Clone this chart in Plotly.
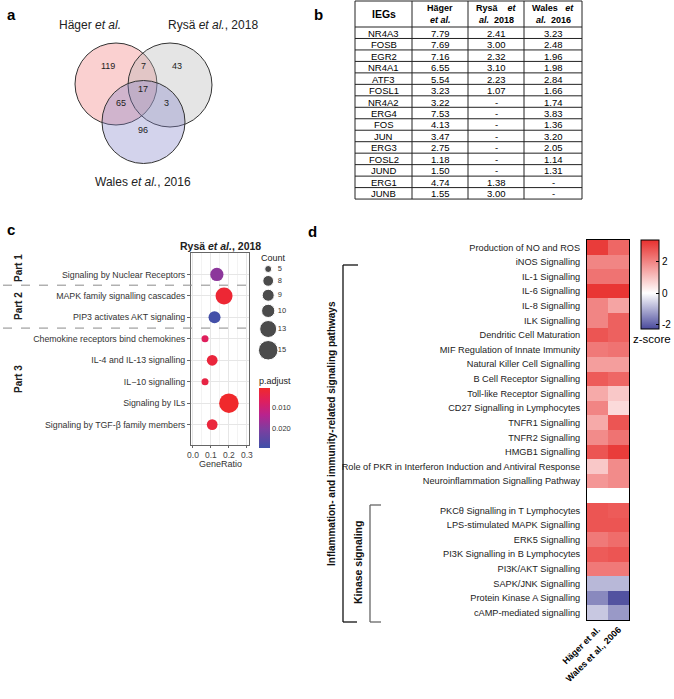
import plotly.graph_objects as go

W, H = 674, 699
FONT = "Liberation Sans, Arial, sans-serif"


def px(x):
    return x / W


def py(y):
    return 1 - y / H


# ---------------- Panel a: Venn data ----------------
venn_names = ["Häger <i>et al.</i>", "Rysä <i>et al.</i>, 2018", "Wales <i>et al.</i>, 2016"]
# region order: H only, H&R, R only, all three, H&W, R&W, W only
venn_counts = [119, 7, 43, 17, 65, 3, 96]

# ---------------- Panel b: table data ----------------
ieg_genes = ["NR4A3", "FOSB", "EGR2", "NR4A1", "ATF3", "FOSL1", "NR4A2", "ERG4",
             "FOS", "JUN", "ERG3", "FOSL2", "JUND", "ERG1", "JUNB"]
hager_fc = [7.79, 7.69, 7.16, 6.55, 5.54, 3.23, 3.22, 7.53, 4.13, 3.47, 2.75, 1.18, 1.50, 4.74, 1.55]
rysa_fc = [2.41, 3.00, 2.32, 3.10, 2.23, 1.07, None, None, None, None, None, None, None, 1.38, 3.00]
wales_fc = [3.23, 2.48, 1.96, 1.98, 2.84, 1.66, 1.74, 3.83, 1.36, 3.20, 2.05, 1.14, 1.31, None, None]
table_headers = [["<b>IEGs</b>"], ["<b>Häger</b>", "<b><i>et al.</i></b>"],
                 ["<b>Rysä\u00a0\u00a0\u00a0\u00a0<i>et</i></b>", "<b><i>al.</i>\u00a0\u00a02018</b>"],
                 ["<b>Wales\u00a0\u00a0\u00a0<i>et</i></b>", "<b><i>al.</i>\u00a0\u00a02016</b>"]]

# ---------------- Panel c: dot plot data ----------------
path_terms = ["Signaling by Nuclear Receptors", "MAPK family signalling cascades",
              "PIP3 activates AKT signaling", "Chemokine receptors bind chemokines",
              "IL-4 and IL-13 signalling", "IL\u221210 signalling", "Signaling by ILs",
              "Signaling by TGF-\u03b2 family members"]
gene_ratio = [0.133, 0.173, 0.120, 0.067, 0.107, 0.067, 0.200, 0.107]
gene_count = [10, 13, 9, 5, 8, 5, 15, 8]
p_adjust = [0.019, 0.002, 0.029, 0.007, 0.003, 0.004, 0.001, 0.003]
count_legend = [5, 8, 9, 10, 13, 15]

# ---------------- Panel d: heatmap data ----------------
heat_rows = ["Production of NO and ROS", "iNOS Signalling", "IL-1 Signalling", "IL-6 Signalling",
             "IL-8 Signalling", "ILK Signalling", "Dendritic Cell Maturation",
             "MIF Regulation of Innate Immunity", "Natural Killer Cell Signalling",
             "B Cell Receptor Signalling", "Toll-like Receptor Signalling",
             "CD27 Signalling in Lymphocytes", "TNFR1 Signalling", "TNFR2 Signalling",
             "HMGB1 Signalling", "Role of PKR in Interferon Induction and Antiviral Response",
             "Neuroinflammation Signalling Pathway", " ",
             "PKC\u03b8 Signalling in T Lymphocytes", "LPS-stimulated MAPK Signalling",
             "ERK5 Signalling", "PI3K Signalling in B Lymphocytes", "PI3K/AKT Signalling",
             "SAPK/JNK Signalling", "Protein Kinase A Signalling", "cAMP-mediated signalling"]
heat_cols = ["Häger et al.", "Wales et al., 2006"]
hager_z = [3.2, 2.0, 2.3, 3.3, 2.0, 2.0, 2.8, 2.2, 1.6, 2.7, 1.4, 2.0, 1.4, 1.9, 2.8, 0.9, 1.7, None,
           2.8, 2.8, 2.2, 2.7, 2.2, -0.9, -1.5, -0.7]
wales_z = [2.5, 2.0, 2.3, 3.3, 1.5, 2.6, 2.6, 2.3, 1.6, 2.5, 0.9, 0.6, 2.8, 2.3, 3.2, 1.9, 1.9, None,
           2.7, 2.8, 2.4, 2.8, 2.2, -0.9, -2.2, -1.3]

fig = go.Figure()
shapes = []
annotations = []


def ann(x, y, text, size=10, bold=False, angle=0, xanchor="center", color="black", yanchor="middle"):
    t = f"<b>{text}</b>" if bold else text
    annotations.append(dict(x=px(x), y=py(y), xref="paper", yref="paper", text=t, showarrow=False,
                            font=dict(family=FONT, size=size, color=color), textangle=angle,
                            xanchor=xanchor, yanchor=yanchor, borderpad=0))


def line(x0, y0, x1, y1, color, width=1.3, dash="solid"):
    shapes.append(dict(type="line", xref="paper", yref="paper", x0=px(x0), y0=py(y0),
                       x1=px(x1), y1=py(y1), line=dict(color=color, width=width, dash=dash)))


# ---------- Panel a: Venn ----------
venn_circles = [(116, 84, 41, "rgba(240,120,120,0.35)"),
                (170, 85, 42, "rgba(180,180,180,0.35)"),
                (143.5, 122, 41.5, "rgba(130,130,200,0.35)")]
for cx, cy, r, col in venn_circles:
    shapes.append(dict(type="circle", xref="paper", yref="paper",
                       x0=px(cx - r), x1=px(cx + r), y0=py(cy + r), y1=py(cy - r),
                       fillcolor=col, line=dict(color="#333", width=1), layer="above"))
venn_label_pos = [(90, 25), (213, 25), (143, 182)]
for (x, y), name in zip(venn_label_pos, venn_names):
    ann(x, y, name, size=12, color="#222")
venn_count_pos = [(108, 66), (143, 66), (177, 66), (143, 89), (121, 103), (166, 103), (143, 130)]
for (x, y), c in zip(venn_count_pos, venn_counts):
    ann(x, y, str(c), size=9, color="#222")

# ---------- Panel letters ----------
ann(11, 15, "a", size=15, bold=True)
ann(318, 14, "b", size=15, bold=True)
ann(11, 229, "c", size=15, bold=True)
ann(312, 231, "d", size=15, bold=True)

# ---------- Panel b: table (drawn as grid + text) ----------
def fmt(v):
    return "-" if v is None else f"{v:.2f}"

col_edges = [355, 412, 468, 524, 582]
tbl_top, hdr_h, row_h = 1, 26, 11.47
columns = [ieg_genes, [fmt(v) for v in hager_fc], [fmt(v) for v in rysa_fc], [fmt(v) for v in wales_fc]]
n_rows = len(ieg_genes)
tbl_bottom = tbl_top + hdr_h + n_rows * row_h
for xe in col_edges:
    line(xe, tbl_top, xe, tbl_bottom, "#222", width=1)
line(col_edges[0], tbl_top, col_edges[-1], tbl_top, "#222", width=1)
for i in range(n_rows + 1):
    yy = tbl_top + hdr_h + i * row_h
    line(col_edges[0], yy, col_edges[-1], yy, "#222", width=1)
for j, hdr in enumerate(table_headers):
    xc = (col_edges[j] + col_edges[j + 1]) / 2
    if len(hdr) == 1:
        ann(xc, tbl_top + hdr_h / 2, hdr[0], size=10.5)
    else:
        ann(xc, tbl_top + 7.5, hdr[0], size=9)
        ann(xc, tbl_top + 19.5, hdr[1], size=9)
for j, col in enumerate(columns):
    xc = (col_edges[j] + col_edges[j + 1]) / 2
    for i, v in enumerate(col):
        ann(xc, tbl_top + hdr_h + (i + 0.5) * row_h + 0.5, v, size=9.5)

# ---------- Panel c: dot plot ----------
def dot_size(c):
    return 7 + 1.25 * (c - 5)

neg_p = [-p for p in p_adjust]
fig.add_trace(go.Scatter(
    x=gene_ratio, y=path_terms, xaxis="x2", yaxis="y2", mode="markers",
    marker=dict(size=[dot_size(c) for c in gene_count], color=neg_p, cmin=-0.0295, cmax=-0.001,
                colorscale=[[0, "#3f50a8"], [0.3, "#7b3fa0"], [0.55, "#b8238e"],
                            [0.78, "#de1f5e"], [1, "#f0292c"]],
                line=dict(width=0), opacity=1,
                colorbar=dict(x=px(259), xanchor="left", y=py(418), yanchor="middle",
                              len=60, lenmode="pixels", thickness=11, thicknessmode="pixels",
                              xpad=0, ypad=0, outlinewidth=0, ticks="",
                              tickvals=[-0.01, -0.02], ticktext=["0.010", "0.020"],
                              tickfont=dict(family=FONT, size=7.5, color="#333"))),
    showlegend=False, hoverinfo="skip"))
ann(258, 381, "p.adjust", size=9, xanchor="left", color="#222")

# count legend (drawn on its own hidden axes, pixel units)
leg_sizes = [dot_size(c) for c in count_legend]
leg_y = [269.0]
for i in range(1, len(leg_sizes)):
    leg_y.append(leg_y[-1] + (leg_sizes[i - 1] + leg_sizes[i]) / 2 + 3)
fig.add_trace(go.Scatter(x=[0.3] * len(count_legend), y=leg_y, xaxis="x3", yaxis="y3",
                         mode="markers", marker=dict(size=leg_sizes, color="black"),
                         showlegend=False, hoverinfo="skip"))
fig.add_trace(go.Scatter(x=[0.58] * len(count_legend), y=leg_y, xaxis="x3", yaxis="y3",
                         mode="text", text=[str(c) for c in count_legend], textposition="middle right",
                         textfont=dict(family=FONT, size=7.5, color="#333"),
                         showlegend=False, hoverinfo="skip"))
ann(260, 258, "Count", size=9, xanchor="left", color="#222")
ann(220, 246, "Rysä <i>et al.</i>, 2018", size=10.5, bold=True, color="#222")
ann(220, 464, "GeneRatio", size=9, color="#333")
ann(18, 268, "Part 1", size=10, bold=True, angle=-90, color="#222")
ann(18, 306, "Part 2", size=10, bold=True, angle=-90, color="#222")
ann(18, 379, "Part 3", size=10, bold=True, angle=-90, color="#222")
for yv in [0.5, 2.5]:
    shapes.append(dict(type="line", xref="paper", yref="y2", x0=px(3), x1=px(249), y0=yv, y1=yv,
                       line=dict(color="#8a8a8a", width=1, dash="dash"), layer="above"))

# ---------- Panel d: heatmap ----------
z = [[h, w] for h, w in zip(hager_z, wales_z)]
zmin, zmax = -2.3, 3.4
wpos = -zmin / (zmax - zmin)
fig.add_trace(go.Heatmap(
    z=z, x=heat_cols, y=heat_rows, xaxis="x4", yaxis="y4", zmin=zmin, zmax=zmax,
    colorscale=[[0, "#4a4a9c"], [wpos, "#ffffff"], [1, "#e8302e"]],
    hoverongaps=False, xgap=0, ygap=0,
    colorbar=dict(x=px(641), xanchor="left", y=py(284.5), yanchor="middle",
                  len=89, lenmode="pixels", thickness=18, thicknessmode="pixels",
                  xpad=0, ypad=0, outlinewidth=1, outlinecolor="black",
                  tickvals=[-2, 0, 2], ticktext=["-2", "0", "2"], ticks="inside", ticklen=3,
                  tickcolor="black", tickfont=dict(family=FONT, size=10, color="black"))))
ann(652, 339, "z-score", size=11.5)

# brackets
line(343, 265, 358, 265, "#111")
line(343, 265, 343, 622, "#111")
line(343, 622, 357, 622, "#111")
line(370, 505, 381, 505, "#666")
line(370, 505, 370, 622, "#666")
line(370, 622, 381, 622, "#666")
ann(331, 434, "Inflammation- and immunity-related signaling pathways", size=10, bold=True,
    angle=-90, color="#111")
ann(358, 563, "Kinase signaling", size=10.5, bold=True, angle=-90, color="#111")

fig.update_layout(
    width=W, height=H, margin=dict(l=0, r=0, t=0, b=0, autoexpand=False),
    paper_bgcolor="white", plot_bgcolor="white", showlegend=False,
    shapes=shapes, annotations=annotations,
    font=dict(family=FONT),
    xaxis2=dict(domain=[px(191), px(249)], anchor="y2", range=[-0.011, 0.312],
                tickvals=[0, 0.1, 0.2, 0.3], ticktext=["0.0", "0.1", "0.2", "0.3"],
                showgrid=True, gridcolor="#e6e6e6", gridwidth=1,
                minor=dict(dtick=0.05, tick0=0, showgrid=True, gridcolor="#f3f3f3", gridwidth=0.6),
                showline=True, mirror=True, linecolor="#666", linewidth=1,
                ticks="outside", ticklen=2, tickcolor="#666", zeroline=False, automargin=False,
                tickfont=dict(family=FONT, size=8.5, color="#444")),
    yaxis2=dict(domain=[py(445), py(253)], anchor="x2", type="category",
                categoryorder="array", categoryarray=path_terms, range=[7.95, -1.0],
                showgrid=True, gridcolor="#e6e6e6", gridwidth=1,
                showline=True, mirror=True, linecolor="#666", linewidth=1,
                ticks="outside", ticklen=3, tickcolor="#666", automargin=False,
                tickfont=dict(family=FONT, size=8.8, color="#333")),
    xaxis3=dict(domain=[px(258), px(292)], anchor="y3", range=[0, 1], visible=False),
    yaxis3=dict(domain=[py(362), py(262)], anchor="x3", range=[362, 262], visible=False),
    xaxis4=dict(domain=[px(587), px(629)], anchor="y4", type="category",
                tickvals=heat_cols, ticktext=["<b>Häger et al.</b>", "<b>Wales et al., 2006</b>"],
                tickangle=-45, showline=True, mirror=True, linecolor="black", linewidth=1,
                ticks="", showgrid=False, zeroline=False, automargin=False,
                tickfont=dict(family=FONT, size=9, color="black")),
    yaxis4=dict(domain=[py(620), py(240)], anchor="x4", type="category",
                categoryorder="array", categoryarray=heat_rows, autorange="reversed",
                showline=True, mirror=True, linecolor="black", linewidth=1,
                ticks="", showgrid=False, zeroline=False, ticklabelstandoff=4, automargin=False,
                tickfont=dict(family=FONT, size=9.2, color="#222")),
)

# remove the browser's default 8px body margin so the figure sits at the page origin
fig.write_html("out.html", config={"displayModeBar": False},
               post_script="document.body.style.margin='0';")
